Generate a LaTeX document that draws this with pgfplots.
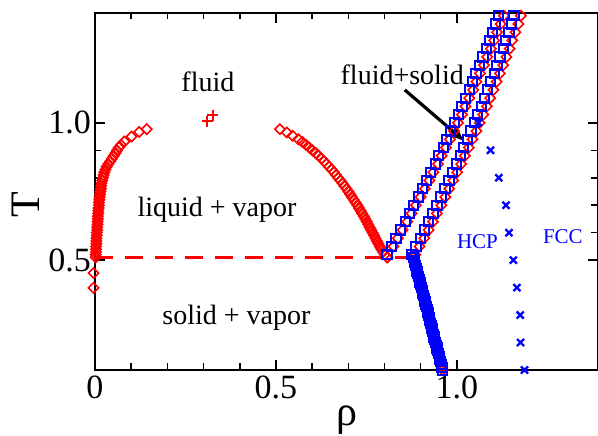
\documentclass[border=0pt]{standalone}
\usepackage{fontspec}
\setmainfont{Liberation Serif}
\usepackage{pgfplots}
\pgfplotsset{compat=1.18}
\usetikzlibrary{arrows.meta}
\definecolor{pr}{RGB}{255,0,0}
\definecolor{pb}{RGB}{0,0,255}
\pgfplotsset{
  rd/.style={only marks, color=pr, mark=square, mark size=3.6pt, mark options={rotate=45, line width=1.6pt, solid}},
  bs/.style={only marks, color=pb, mark=square, mark size=4.6pt, mark options={line width=2pt, solid}},
}
\begin{document}
\begin{tikzpicture}
\begin{axis}[name=ax, scale only axis, width=503pt, height=357pt,
 xmin=0, xmax=1.39, ymin=0.1, ymax=1.4,
 xtick={0,0.5,1}, xticklabels={0,0.5,1.0},
 ytick={0.5,1}, yticklabels={0.5,1.0},
 minor x tick num=4, minor y tick num=4,
 major tick length=10pt, minor tick length=6.5pt,
 every tick/.style={black, line width=1.6pt},
 axis line style={line width=1.8pt},
 tick align=inside,
 /pgf/number format/assume math mode=true,
 ticklabel style={font=\fontsize{34}{34}\selectfont},
 xticklabel style={inner sep=6pt},
 yticklabel style={inner sep=4pt},
 xlabel={ρ}, ylabel={T},
 xlabel style={font=\fontsize{42}{42}\selectfont, at={(axis description cs:0.501,-0.14)}, anchor=center},
 ylabel style={font=\fontsize{42}{42}\selectfont, at={(axis description cs:-0.137,0.462)}, anchor=center},
 clip=false,
]
% triple line
\addplot[pr, line width=2.6pt, dash pattern=on 18pt off 12pt] coordinates {(0,0.51) (0.88,0.51)};
% vapor branch
\addplot[rd] table {
0.002 0.51
0.002 0.52
0.003 0.53
0.003 0.54
0.003 0.55
0.004 0.56
0.004 0.57
0.004 0.58
0.005 0.59
0.005 0.60
0.006 0.61
0.006 0.62
0.007 0.63
0.007 0.64
0.008 0.65
0.008 0.66
0.009 0.67
0.009 0.68
0.010 0.69
0.011 0.70
0.011 0.71
0.012 0.72
0.013 0.73
0.014 0.74
0.015 0.75
0.016 0.76
0.017 0.77
0.018 0.78
0.020 0.79
0.022 0.80
0.024 0.81
0.026 0.82
0.029 0.83
0.032 0.84
0.037 0.85
0.042 0.86
0.047 0.87
0.052 0.88
0.057 0.89
0.061 0.90
0.066 0.91
0.072 0.92
0.081 0.932
0.101 0.950
0.122 0.967
0.143 0.977
-0.004 0.453
-0.004 0.399
};
% liquid branch
\addplot[rd] table {
0.511 0.977
0.530 0.965
0.546 0.953
0.562 0.94
0.573 0.93
0.583 0.92
0.592 0.91
0.601 0.90
0.610 0.89
0.618 0.88
0.626 0.87
0.633 0.86
0.640 0.85
0.647 0.84
0.654 0.83
0.660 0.82
0.666 0.81
0.672 0.80
0.678 0.79
0.684 0.78
0.689 0.77
0.695 0.76
0.700 0.75
0.705 0.74
0.710 0.73
0.715 0.72
0.720 0.71
0.725 0.70
0.729 0.69
0.734 0.68
0.738 0.67
0.743 0.66
0.747 0.65
0.751 0.64
0.755 0.63
0.759 0.62
0.763 0.61
0.767 0.60
0.771 0.59
0.775 0.58
0.779 0.57
0.783 0.56
0.787 0.55
0.791 0.54
0.796 0.53
0.801 0.52
0.807 0.51
};
% critical point
\addplot[only marks, color=pr, mark=+, mark size=5.5pt, mark options={line width=1.6pt}] coordinates {(0.310,1.006) (0.326,1.028)};
% fluid-solid (red)
\addplot[rd] table {
0.808 0.51
0.825 0.55
0.837 0.58
0.850 0.61
0.863 0.64
0.875 0.67
0.887 0.70
0.900 0.73
0.912 0.76
0.924 0.79
0.935 0.82
0.948 0.85
0.958 0.88
0.970 0.91
0.981 0.94
0.992 0.97
1.003 1.00
1.014 1.03
1.024 1.06
1.034 1.09
1.045 1.12
1.054 1.15
1.064 1.18
1.075 1.21
1.084 1.24
1.094 1.27
1.103 1.30
1.111 1.33
1.121 1.36
1.130 1.39
};
\addplot[rd] table {
0.885 0.52
0.897 0.55
0.910 0.58
0.922 0.61
0.934 0.64
0.945 0.67
0.957 0.70
0.968 0.73
0.979 0.76
0.990 0.79
1.001 0.82
1.012 0.85
1.022 0.88
1.033 0.91
1.043 0.94
1.054 0.97
1.063 1.00
1.073 1.03
1.083 1.06
1.092 1.09
1.101 1.12
1.110 1.15
1.119 1.18
1.128 1.21
1.137 1.24
1.146 1.27
1.153 1.30
1.162 1.33
1.170 1.36
1.177 1.39
};
% solid-vapor red
\addplot[rd] table {
0.880 0.51
0.882 0.50
0.884 0.49
0.886 0.48
0.888 0.47
0.890 0.46
0.892 0.45
0.894 0.44
0.896 0.43
0.898 0.42
0.900 0.41
0.902 0.40
0.904 0.39
0.906 0.38
0.908 0.37
0.910 0.36
0.912 0.35
0.914 0.34
0.916 0.33
0.918 0.32
0.920 0.31
0.922 0.30
0.924 0.29
0.925 0.28
0.927 0.27
0.929 0.26
0.931 0.25
0.933 0.24
0.935 0.23
0.937 0.22
0.939 0.21
0.941 0.20
0.943 0.19
0.945 0.18
0.947 0.17
0.949 0.16
0.951 0.15
0.953 0.14
0.955 0.13
0.957 0.12
0.959 0.11
0.961 0.10
};
% fluid-solid (blue)
\addplot[bs] table {
0.807 0.52
0.820 0.55
0.832 0.58
0.845 0.61
0.857 0.64
0.869 0.67
0.881 0.70
0.893 0.73
0.905 0.76
0.917 0.79
0.928 0.82
0.940 0.85
0.950 0.88
0.962 0.91
0.972 0.94
0.983 0.97
0.993 1.00
1.004 1.03
1.014 1.06
1.024 1.09
1.034 1.12
1.043 1.15
1.053 1.18
1.063 1.21
1.072 1.24
1.081 1.27
1.090 1.30
1.098 1.33
1.107 1.36
1.116 1.39
};
\addplot[bs] table {
0.875 0.52
0.887 0.55
0.899 0.58
0.911 0.61
0.922 0.64
0.934 0.67
0.945 0.70
0.956 0.73
0.967 0.76
0.978 0.79
0.988 0.82
0.999 0.85
1.009 0.88
1.019 0.91
1.029 0.94
1.039 0.97
1.048 1.00
1.058 1.03
1.067 1.06
1.076 1.09
1.085 1.12
1.094 1.15
1.103 1.18
1.111 1.21
1.119 1.24
1.128 1.27
1.135 1.30
1.144 1.33
1.151 1.36
1.158 1.39
};
% solid-vapor blue
\addplot[bs] table {
0.880 0.51
0.882 0.50
0.884 0.49
0.886 0.48
0.888 0.47
0.890 0.46
0.892 0.45
0.894 0.44
0.896 0.43
0.898 0.42
0.900 0.41
0.902 0.40
0.904 0.39
0.906 0.38
0.908 0.37
0.910 0.36
0.912 0.35
0.914 0.34
0.916 0.33
0.918 0.32
0.920 0.31
0.922 0.30
0.924 0.29
0.925 0.28
0.927 0.27
0.929 0.26
0.931 0.25
0.933 0.24
0.935 0.23
0.937 0.22
0.939 0.21
0.941 0.20
0.943 0.19
0.945 0.18
0.947 0.17
0.949 0.16
0.951 0.15
0.953 0.14
0.955 0.13
0.957 0.12
0.959 0.11
0.961 0.10
};
% HCP-FCC
\addplot[only marks, color=pb, mark=x, mark size=5pt, mark options={line width=2.3pt}] table {
1.060 1.00
1.093 0.90
1.116 0.80
1.136 0.70
1.144 0.60
1.156 0.50
1.166 0.40
1.175 0.30
1.176 0.20
1.187 0.10
};
\node[font=\fontsize{28}{28}\selectfont, anchor=base] at (axis cs:0.312,1.113) {fluid};
\node[font=\fontsize{28}{28}\selectfont, anchor=base] at (axis cs:0.337,0.658) {liquid + vapor};
\node[font=\fontsize{28}{28}\selectfont, anchor=base] at (axis cs:0.391,0.265) {solid + vapor};
\node[font=\fontsize{28}{28}\selectfont, anchor=base] at (axis cs:0.849,1.138) {fluid+solid};
\node[font=\fontsize{21}{21}\selectfont, anchor=base, text=pb] at (axis cs:1.057,0.544) {HCP};
\node[font=\fontsize{21}{21}\selectfont, anchor=base, text=pb] at (axis cs:1.293,0.560) {FCC};
\draw[line width=3.2pt, -{Latex[length=16pt, width=14pt]}] (axis cs:0.856,1.12) -- (axis cs:1.022,0.932);
\end{axis}
\pgfresetboundingbox
\path[use as bounding box] ([xshift=-95pt,yshift=-66pt]ax.south west) rectangle ++(598pt,436pt);
\end{tikzpicture}
\end{document}
